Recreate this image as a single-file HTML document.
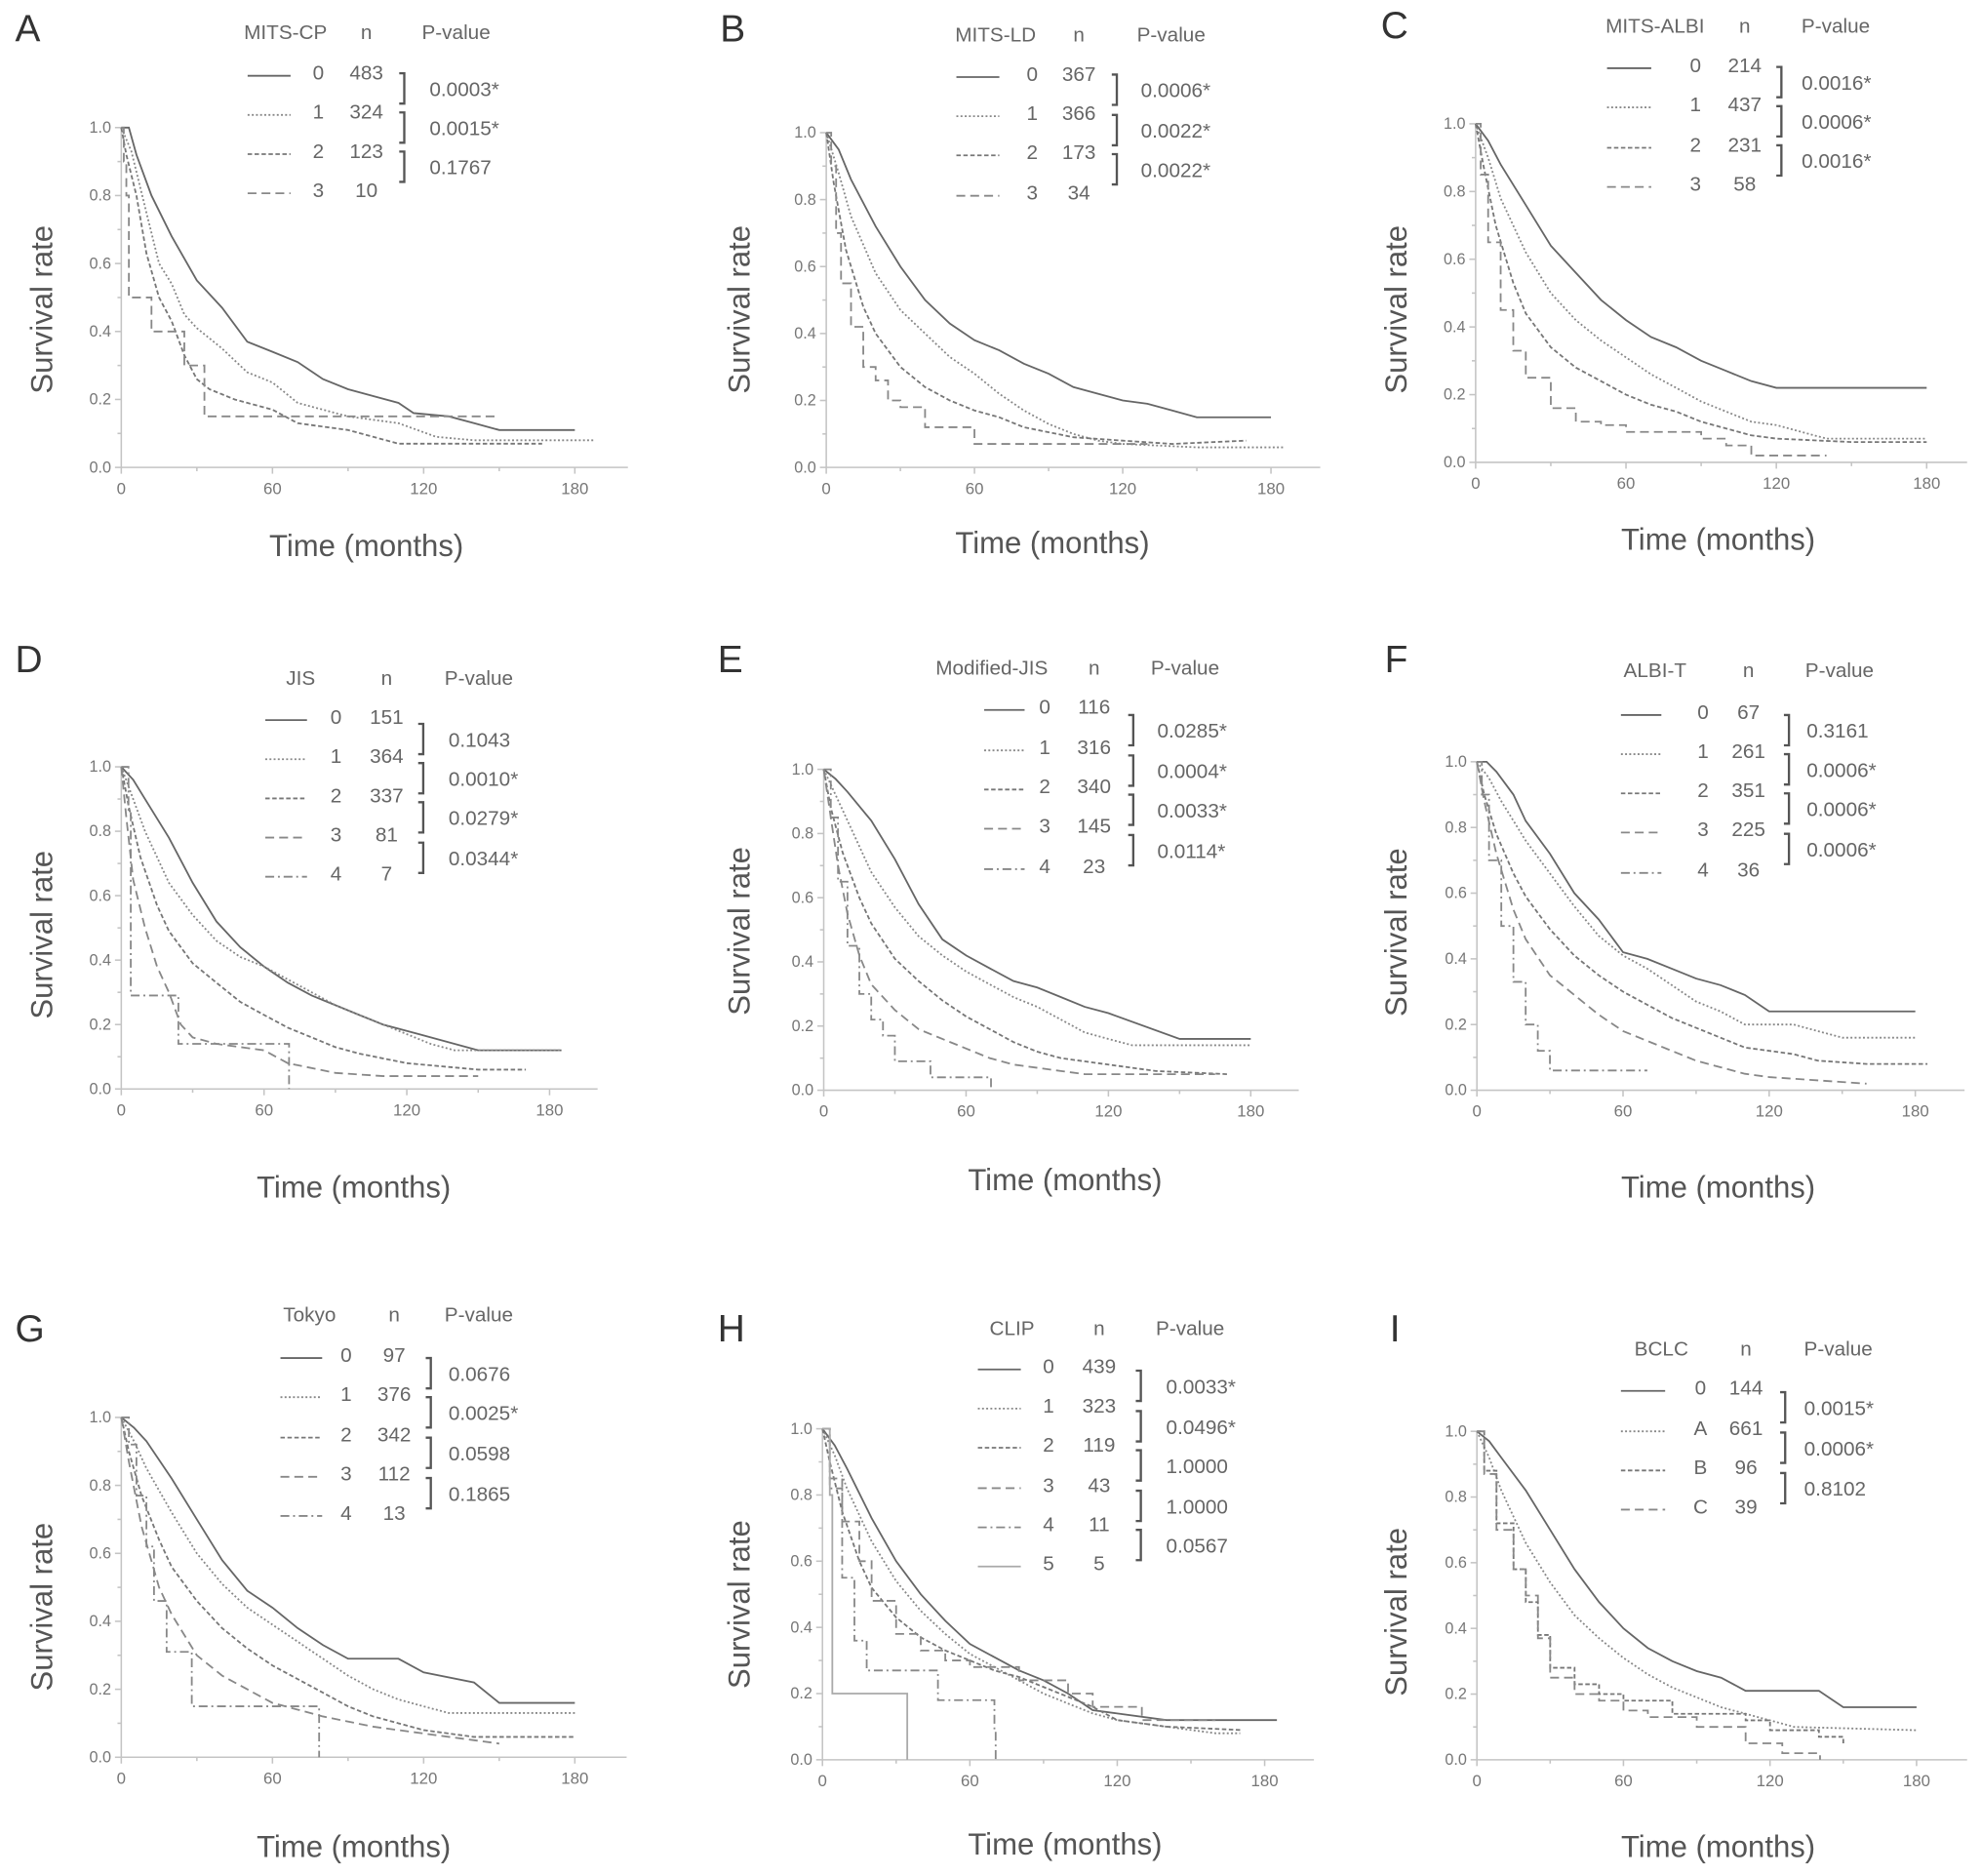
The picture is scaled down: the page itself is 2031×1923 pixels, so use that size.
<!DOCTYPE html>
<html><head><meta charset="utf-8"><title>Kaplan-Meier survival curves</title>
<style>
html,body{margin:0;padding:0;background:#fff;}
svg{display:block;}
text{font-family:"Liberation Sans",sans-serif;}
</style></head>
<body>
<svg id="fig" width="2031" height="1923" viewBox="0 0 1568 1485" preserveAspectRatio="none" xmlns="http://www.w3.org/2000/svg"></svg>
<script>
// ---------- data (time in months, survival rate) ----------
const curvesA = [
 [[0,1],[3,1],[6,0.92],[12,0.8],[20,0.68],[30,0.55],[40,0.47],[50,0.37],[60,0.34],[70,0.31],[80,0.26],[90,0.23],[100,0.21],[110,0.19],[116,0.16],[130,0.15],[140,0.13],[150,0.11],[180,0.11]],
 [[0,1],[4,0.93],[10,0.75],[15,0.6],[20,0.54],[25,0.45],[30,0.41],[40,0.35],[50,0.28],[60,0.25],[70,0.19],[80,0.17],[90,0.15],[110,0.13],[125,0.09],[140,0.08],[188,0.08]],
 [[0,1],[2,0.92],[6,0.8],[10,0.63],[15,0.5],[20,0.43],[25,0.33],[30,0.26],[35,0.23],[45,0.2],[60,0.17],[70,0.13],[90,0.11],[100,0.09],[110,0.07],[167,0.07]],
 [[0,1],[1,0.9],[2,0.8],[3,0.5],[12,0.4],[25,0.3],[33,0.15],[150,0.15]]
];
const groupsA = ["0","1","2","3"];
const nA = ["483","324","123","10"];
const pA = ["0.0003*","0.0015*","0.1767"];

const curvesB = [
 [[0,1],[5,0.95],[10,0.86],[20,0.72],[30,0.6],[40,0.5],[50,0.43],[60,0.38],[70,0.35],[80,0.31],[90,0.28],[100,0.24],[110,0.22],[120,0.2],[130,0.19],[140,0.17],[150,0.15],[180,0.15]],
 [[0,1],[5,0.88],[10,0.75],[20,0.58],[30,0.47],[40,0.4],[50,0.33],[60,0.28],[70,0.22],[80,0.17],[90,0.13],[100,0.1],[110,0.08],[120,0.07],[150,0.06],[185,0.06]],
 [[0,1],[3,0.85],[8,0.65],[15,0.48],[20,0.4],[30,0.3],[40,0.24],[50,0.2],[60,0.17],[70,0.15],[80,0.12],[100,0.09],[120,0.08],[140,0.07],[170,0.08]],
 [[0,1],[2,0.9],[4,0.7],[6,0.55],[10,0.42],[15,0.3],[20,0.26],[25,0.2],[30,0.18],[40,0.12],[60,0.07],[130,0.07]]
];
const groupsB = ["0","1","2","3"];
const nB = ["367","366","173","34"];
const pB = ["0.0006*","0.0022*","0.0022*"];

const curvesC = [
 [[0,1],[5,0.95],[10,0.88],[20,0.76],[30,0.64],[40,0.56],[50,0.48],[60,0.42],[70,0.37],[80,0.34],[90,0.3],[100,0.27],[110,0.24],[120,0.22],[180,0.22]],
 [[0,1],[5,0.9],[10,0.78],[20,0.62],[30,0.5],[40,0.42],[50,0.36],[60,0.31],[70,0.26],[80,0.22],[90,0.18],[100,0.15],[110,0.12],[120,0.11],[130,0.09],[140,0.07],[180,0.07]],
 [[0,1],[3,0.88],[8,0.7],[15,0.53],[20,0.44],[30,0.34],[40,0.28],[50,0.24],[60,0.2],[70,0.17],[80,0.15],[90,0.12],[100,0.1],[110,0.08],[120,0.07],[150,0.06],[180,0.06]],
 [[0,1],[2,0.85],[5,0.65],[10,0.45],[15,0.33],[20,0.25],[30,0.16],[40,0.12],[50,0.11],[60,0.09],[80,0.09],[90,0.07],[100,0.05],[110,0.02],[140,0.02]]
];
const groupsC = ["0","1","2","3"];
const nC = ["214","437","231","58"];
const pC = ["0.0016*","0.0006*","0.0016*"];

const curvesD = [
 [[0,1],[5,0.96],[10,0.9],[20,0.78],[30,0.64],[40,0.52],[50,0.44],[60,0.38],[70,0.33],[80,0.29],[90,0.26],[100,0.23],[110,0.2],[125,0.17],[150,0.12],[185,0.12]],
 [[0,1],[5,0.9],[10,0.8],[20,0.64],[30,0.54],[40,0.46],[50,0.41],[60,0.38],[70,0.34],[80,0.3],[90,0.26],[100,0.23],[110,0.2],[120,0.17],[130,0.14],[140,0.12],[185,0.12]],
 [[0,1],[3,0.88],[8,0.72],[15,0.57],[20,0.49],[30,0.39],[40,0.33],[50,0.27],[60,0.23],[70,0.19],[80,0.16],[90,0.13],[100,0.11],[120,0.08],[150,0.06],[170,0.06]],
 [[0,1],[2,0.85],[5,0.65],[10,0.5],[15,0.38],[20,0.3],[25,0.2],[30,0.16],[40,0.14],[60,0.12],[70,0.08],[90,0.05],[110,0.04],[150,0.04]],
 [[0,1],[3,0.86],[4,0.29],[13,0.29],[24,0.14],[70,0.14],[70.5,0]]
];
const groupsD = ["0","1","2","3","4"];
const nD = ["151","364","337","81","7"];
const pD = ["0.1043","0.0010*","0.0279*","0.0344*"];

const curvesE = [
 [[0,1],[5,0.97],[10,0.93],[20,0.84],[30,0.72],[40,0.58],[50,0.47],[60,0.42],[70,0.38],[80,0.34],[90,0.32],[100,0.29],[110,0.26],[120,0.24],[150,0.16],[180,0.16]],
 [[0,1],[5,0.92],[10,0.84],[20,0.68],[30,0.57],[40,0.48],[50,0.42],[60,0.37],[70,0.33],[80,0.29],[90,0.26],[100,0.22],[110,0.18],[120,0.16],[130,0.14],[180,0.14]],
 [[0,1],[3,0.88],[8,0.74],[15,0.6],[20,0.52],[30,0.41],[40,0.34],[50,0.28],[60,0.23],[70,0.19],[80,0.15],[90,0.12],[100,0.1],[120,0.08],[140,0.06],[170,0.05]],
 [[0,1],[3,0.85],[6,0.7],[10,0.55],[15,0.42],[20,0.33],[30,0.25],[40,0.19],[50,0.16],[60,0.13],[70,0.1],[80,0.08],[100,0.06],[110,0.05],[165,0.05]],
 [[0,1],[3,0.85],[6,0.65],[10,0.45],[15,0.3],[20,0.22],[25,0.17],[30,0.09],[45,0.04],[70,0.04],[70.5,0]]
];
const groupsE = ["0","1","2","3","4"];
const nE = ["116","316","340","145","23"];
const pE = ["0.0285*","0.0004*","0.0033*","0.0114*"];

const curvesF = [
 [[0,1],[4,1],[8,0.97],[15,0.9],[20,0.82],[30,0.72],[40,0.6],[50,0.52],[60,0.42],[70,0.4],[80,0.37],[90,0.34],[100,0.32],[110,0.29],[120,0.24],[180,0.24]],
 [[0,1],[5,0.95],[10,0.88],[20,0.76],[30,0.66],[40,0.56],[50,0.47],[60,0.41],[70,0.37],[80,0.32],[90,0.27],[100,0.24],[110,0.2],[130,0.2],[150,0.16],[180,0.16]],
 [[0,1],[3,0.9],[8,0.78],[15,0.66],[20,0.59],[30,0.49],[40,0.41],[50,0.35],[60,0.3],[70,0.26],[80,0.22],[90,0.19],[100,0.16],[110,0.13],[130,0.11],[140,0.09],[160,0.08],[185,0.08]],
 [[0,1],[3,0.88],[8,0.72],[15,0.55],[20,0.46],[30,0.35],[40,0.29],[50,0.23],[60,0.18],[70,0.15],[80,0.12],[90,0.09],[100,0.07],[110,0.05],[120,0.04],[140,0.03],[160,0.02]],
 [[0,1],[2,0.9],[5,0.7],[10,0.5],[15,0.33],[20,0.2],[25,0.12],[30,0.06],[70,0.06]]
];
const groupsF = ["0","1","2","3","4"];
const nF = ["67","261","351","225","36"];
const pF = ["0.3161","0.0006*","0.0006*","0.0006*"];

const curvesG = [
 [[0,1],[5,0.97],[10,0.93],[20,0.82],[30,0.7],[40,0.58],[50,0.49],[60,0.44],[70,0.38],[80,0.33],[90,0.29],[110,0.29],[120,0.25],[140,0.22],[150,0.16],[180,0.16]],
 [[0,1],[5,0.93],[10,0.85],[20,0.72],[30,0.6],[40,0.51],[50,0.44],[60,0.39],[70,0.34],[80,0.29],[90,0.24],[100,0.2],[110,0.17],[120,0.15],[130,0.13],[180,0.13]],
 [[0,1],[3,0.9],[8,0.77],[15,0.64],[20,0.56],[30,0.46],[40,0.38],[50,0.32],[60,0.27],[70,0.23],[80,0.19],[90,0.15],[100,0.12],[110,0.1],[120,0.08],[140,0.06],[180,0.06]],
 [[0,1],[3,0.87],[8,0.68],[15,0.5],[20,0.42],[30,0.3],[40,0.24],[50,0.2],[60,0.16],[70,0.14],[80,0.12],[100,0.09],[120,0.07],[140,0.05],[150,0.04]],
 [[0,1],[3,0.92],[6,0.77],[10,0.62],[13,0.46],[18,0.31],[28,0.15],[78,0.15],[78.5,0]]
];
const groupsG = ["0","1","2","3","4"];
const nG = ["97","376","342","112","13"];
const pG = ["0.0676","0.0025*","0.0598","0.1865"];

const curvesH = [
 [[0,1],[5,0.95],[10,0.88],[20,0.73],[30,0.6],[40,0.5],[50,0.42],[60,0.35],[70,0.31],[80,0.27],[90,0.24],[100,0.2],[110,0.15],[120,0.14],[140,0.12],[185,0.12]],
 [[0,1],[5,0.92],[10,0.82],[20,0.66],[30,0.54],[40,0.45],[50,0.38],[60,0.32],[70,0.28],[80,0.24],[90,0.2],[100,0.17],[110,0.14],[120,0.12],[140,0.1],[160,0.08],[170,0.08]],
 [[0,1],[3,0.9],[8,0.75],[15,0.6],[20,0.52],[30,0.43],[40,0.37],[50,0.33],[60,0.3],[70,0.27],[80,0.25],[90,0.22],[100,0.19],[110,0.16],[120,0.12],[140,0.1],[170,0.09]],
 [[0,1],[3,0.85],[8,0.72],[15,0.6],[20,0.48],[30,0.38],[40,0.33],[50,0.3],[60,0.28],[80,0.24],[100,0.2],[110,0.16],[130,0.12],[160,0.12]],
 [[0,1],[3,0.82],[8,0.55],[13,0.36],[18,0.27],[43,0.27],[47,0.18],[68,0.18],[70,0.09],[70.5,0]],
 [[0,1],[3,0.8],[4,0.2],[34,0.2],[34.5,0]]
];
const groupsH = ["0","1","2","3","4","5"];
const nH = ["439","323","119","43","11","5"];
const pH = ["0.0033*","0.0496*","1.0000","1.0000","0.0567"];

const curvesI = [
 [[0,1],[5,0.97],[10,0.92],[20,0.82],[30,0.7],[40,0.58],[50,0.48],[60,0.4],[70,0.34],[80,0.3],[90,0.27],[100,0.25],[110,0.21],[140,0.21],[150,0.16],[180,0.16]],
 [[0,1],[5,0.92],[10,0.82],[20,0.66],[30,0.54],[40,0.44],[50,0.37],[60,0.31],[70,0.26],[80,0.22],[90,0.19],[100,0.16],[120,0.12],[130,0.1],[180,0.09]],
 [[0,1],[3,0.88],[8,0.72],[15,0.58],[20,0.48],[25,0.38],[30,0.28],[40,0.23],[50,0.2],[60,0.18],[80,0.14],[100,0.14],[110,0.12],[120,0.09],[140,0.07],[150,0.05]],
 [[0,1],[3,0.87],[8,0.7],[15,0.58],[20,0.5],[25,0.37],[30,0.25],[40,0.2],[50,0.18],[60,0.15],[70,0.13],[90,0.1],[110,0.05],[125,0.02],[140,0.02],[140.5,0]]
];
const groupsI = ["0","A","B","C"];
const nI = ["144","661","96","39"];
const pI = ["0.0015*","0.0006*","0.8102"];

const xTicks = [0,60,120,180];
const yTicks = [0,0.2,0.4,0.6,0.8,1.0];
const yTickLabels = ["0.0","0.2","0.4","0.6","0.8","1.0"];

// ---------- layout (geometry only) ----------
const panels = [
 {id:"A", title:"MITS-CP", curves:curvesA, groups:groupsA, n:nA, p:pA, step:[0,0,0,1],
  x0:96,x180:455,y0:370,y1:101,xEnd:497, letter:[12,33], surv:[33,245], time:[290,432],
  hy:25, hTitle:226, hN:290, hP:361, rows:[57,88,119,150], line:[196,230], lab:252, nx:290, bx:320, px:340, py:[70,101,132]},
 {id:"B", title:"MITS-LD", curves:curvesB, groups:groupsB, n:nB, p:pB, step:[0,0,0,1],
  x0:654,x180:1006,y0:370,y1:105,xEnd:1045, letter:[570,33], surv:[585,245], time:[833,430],
  hy:27, hTitle:788, hN:854, hP:927, rows:[58,89,120,152], line:[757,791], lab:817, nx:854, bx:884, px:903, py:[71,103,134]},
 {id:"C", title:"MITS-ALBI", curves:curvesC, groups:groupsC, n:nC, p:pC, step:[0,0,0,1],
  x0:1168,x180:1525,y0:366,y1:98,xEnd:1557, letter:[1093,30], surv:[1105,245], time:[1360,427],
  hy:20, hTitle:1310, hN:1381, hP:1453, rows:[51,82,114,145], line:[1272,1307], lab:1342, nx:1381, bx:1410, px:1426, py:[65,96,127]},
 {id:"D", title:"JIS", curves:curvesD, groups:groupsD, n:nD, p:pD, step:[0,0,0,0,1],
  x0:96,x180:435,y0:862,y1:607,xEnd:473, letter:[12,532], surv:[33,740], time:[280,940],
  hy:536, hTitle:238, hN:306, hP:379, rows:[567,598,629,660,691], line:[210,243], lab:266, nx:306, bx:335, px:355, py:[585,616,647,679]},
 {id:"E", title:"Modified-JIS", curves:curvesE, groups:groupsE, n:nE, p:pE, step:[0,0,0,0,1],
  x0:652,x180:990,y0:863,y1:609,xEnd:1028, letter:[568,532], surv:[585,737], time:[843,934],
  hy:528, hTitle:785, hN:866, hP:938, rows:[559,591,622,653,685], line:[779,811], lab:827, nx:866, bx:897, px:916, py:[578,610,641,673]},
 {id:"F", title:"ALBI-T", curves:curvesF, groups:groupsF, n:nF, p:pF, step:[0,0,0,0,1],
  x0:1169,x180:1516,y0:863,y1:603,xEnd:1555, letter:[1096,532], surv:[1105,738], time:[1360,940],
  hy:530, hTitle:1310, hN:1384, hP:1456, rows:[563,594,625,656,688], line:[1283,1315], lab:1348, nx:1384, bx:1416, px:1430, py:[578,609,640,672]},
 {id:"G", title:"Tokyo", curves:curvesG, groups:groupsG, n:nG, p:pG, step:[0,0,0,0,1],
  x0:96,x180:455,y0:1391,y1:1122,xEnd:496, letter:[12,1062], surv:[33,1272], time:[280,1462],
  hy:1040, hTitle:245, hN:312, hP:379, rows:[1072,1103,1135,1166,1197], line:[222,255], lab:274, nx:312, bx:341, px:355, py:[1087,1118,1150,1182]},
 {id:"H", title:"CLIP", curves:curvesH, groups:groupsH, n:nH, p:pH, step:[0,0,0,1,1,1],
  x0:651,x180:1001,y0:1393,y1:1131,xEnd:1040, letter:[568,1062], surv:[585,1270], time:[843,1460],
  hy:1051, hTitle:801, hN:870, hP:942, rows:[1081,1112,1143,1175,1206,1237], line:[774,808], lab:830, nx:870, bx:903, px:923, py:[1097,1129,1160,1192,1223]},
 {id:"I", title:"BCLC", curves:curvesI, groups:groupsI, n:nI, p:pI, step:[0,0,1,1],
  x0:1169,x180:1517,y0:1393,y1:1133,xEnd:1557, letter:[1100,1062], surv:[1105,1276], time:[1360,1462],
  hy:1067, hTitle:1315, hN:1382, hP:1455, rows:[1098,1130,1161,1192], line:[1283,1318], lab:1346, nx:1382, bx:1413, px:1428, py:[1114,1146,1178]}
];
const dashes = ["", "1.5 1.8", "3.5 2", "7 4", "7 3 1.5 3", ""];
const strokes = ["#666","#888","#777","#888","#888","#aaa"];

// ---------- drawing ----------
const NS = "http://www.w3.org/2000/svg";
const svg = document.getElementById("fig");
function mk(tag, attrs, parent, txt){
  const e = document.createElementNS(NS, tag);
  for (const k in attrs) e.setAttribute(k, attrs[k]);
  if (txt !== undefined) e.textContent = txt;
  parent.appendChild(e);
  return e;
}
panels.forEach(P => {
  const xs = t => P.x0 + (t/180)*(P.x180 - P.x0);
  const ys = s => P.y0 - s*(P.y0 - P.y1);
  const g = mk("g", {}, svg);
  
  

  const L = mk("text", {x:P.letter[0], y:P.letter[1], "font-size":30, fill:"#333"}, g, P.id);
  
  

  const ax = mk("g", {stroke:"#c4c4c4","stroke-width":1.2, fill:"none"}, g);
  
  
  mk("line", {x1:P.x0, y1:P.y0, x2:P.xEnd, y2:P.y0}, ax);
  mk("line", {x1:P.x0, y1:P.y0, x2:P.x0, y2:P.y1}, ax);
  for (let t=0; t<=180; t+=30) mk("line", {x1:xs(t), y1:P.y0, x2:xs(t), y2:P.y0+(t%60===0?5:3)}, ax);
  for (let s=0; s<=1.001; s+=0.1) mk("line", {x1:P.x0, y1:ys(s), x2:P.x0-(Math.round(s*10)%2===0?5:3), y2:ys(s)}, ax);

  xTicks.forEach(t => {
    const e = mk("text", {x:xs(t), y:P.y0+21, "font-size":13, fill:"#777","text-anchor":"middle"}, g, String(t));
    
    
  });
  yTicks.forEach((s,i) => {
    const e = mk("text", {x:P.x0-8, y:ys(s)+4, "font-size":12.5, fill:"#777","text-anchor":"end"}, g, yTickLabels[i]);
    
    
  });
  const yt = mk("text", {x:P.surv[0], y:P.surv[1], "font-size":24, fill:"#555","text-anchor":"middle",
      transform:`rotate(-90 ${P.surv[0]} ${P.surv[1]})`, dy:"0.35em"}, g, "Survival rate");
  
  
  const xt = mk("text", {x:P.time[0], y:P.time[1]+8, "font-size":24, fill:"#555","text-anchor":"middle"}, g, "Time (months)");
  
  

  P.curves.forEach((c,i) => {
    let d = "";
    c.forEach((pt,j) => {
      const X = xs(pt[0]).toFixed(1), Y = ys(pt[1]).toFixed(1);
      if (j===0) d += `M${X},${Y}`;
      else if (P.step[i]) d += `H${X}V${Y}`;
      else d += `L${X},${Y}`;
    });
    const path = mk("path", {d:d, fill:"none", stroke:strokes[i], "stroke-width":1.4, "stroke-dasharray":dashes[i]}, g);
    
    
  });

  const lg = mk("g", {}, g);
  
  
  const hs = {"font-size":16, fill:"#666"};
  mk("text", Object.assign({x:P.hTitle, y:P.hy+6, "text-anchor":"middle"}, hs), lg, P.title);
  mk("text", Object.assign({x:P.hN, y:P.hy+6, "text-anchor":"middle"}, hs), lg, "n");
  mk("text", Object.assign({x:P.hP, y:P.hy+6, "text-anchor":"middle"}, hs), lg, "P-value");
  P.groups.forEach((gname,i) => {
    const y = P.rows[i];
    const ln = mk("line", {x1:P.line[0], y1:y+3, x2:P.line[1], y2:y+3, stroke:strokes[i], "stroke-width":1.4, "stroke-dasharray":dashes[i]}, lg);
    
    
    const t1 = mk("text", Object.assign({x:P.lab, y:y+6, "text-anchor":"middle"}, hs), lg, gname);
    
    
    const t2 = mk("text", Object.assign({x:P.nx, y:y+6, "text-anchor":"middle"}, hs), lg, P.n[i]);
    
    
  });
  P.p.forEach((pv,i) => {
    const y = P.py[i];
    const br = mk("path", {d:`M${P.bx-4},${y-12}H${P.bx}V${y+12}H${P.bx-4}`, fill:"none", stroke:"#555","stroke-width":1.8}, lg);
    
    
    const t = mk("text", Object.assign({x:P.px, y:y+6}, hs), lg, pv);
    
    
  });
});
</script>
</body></html>
